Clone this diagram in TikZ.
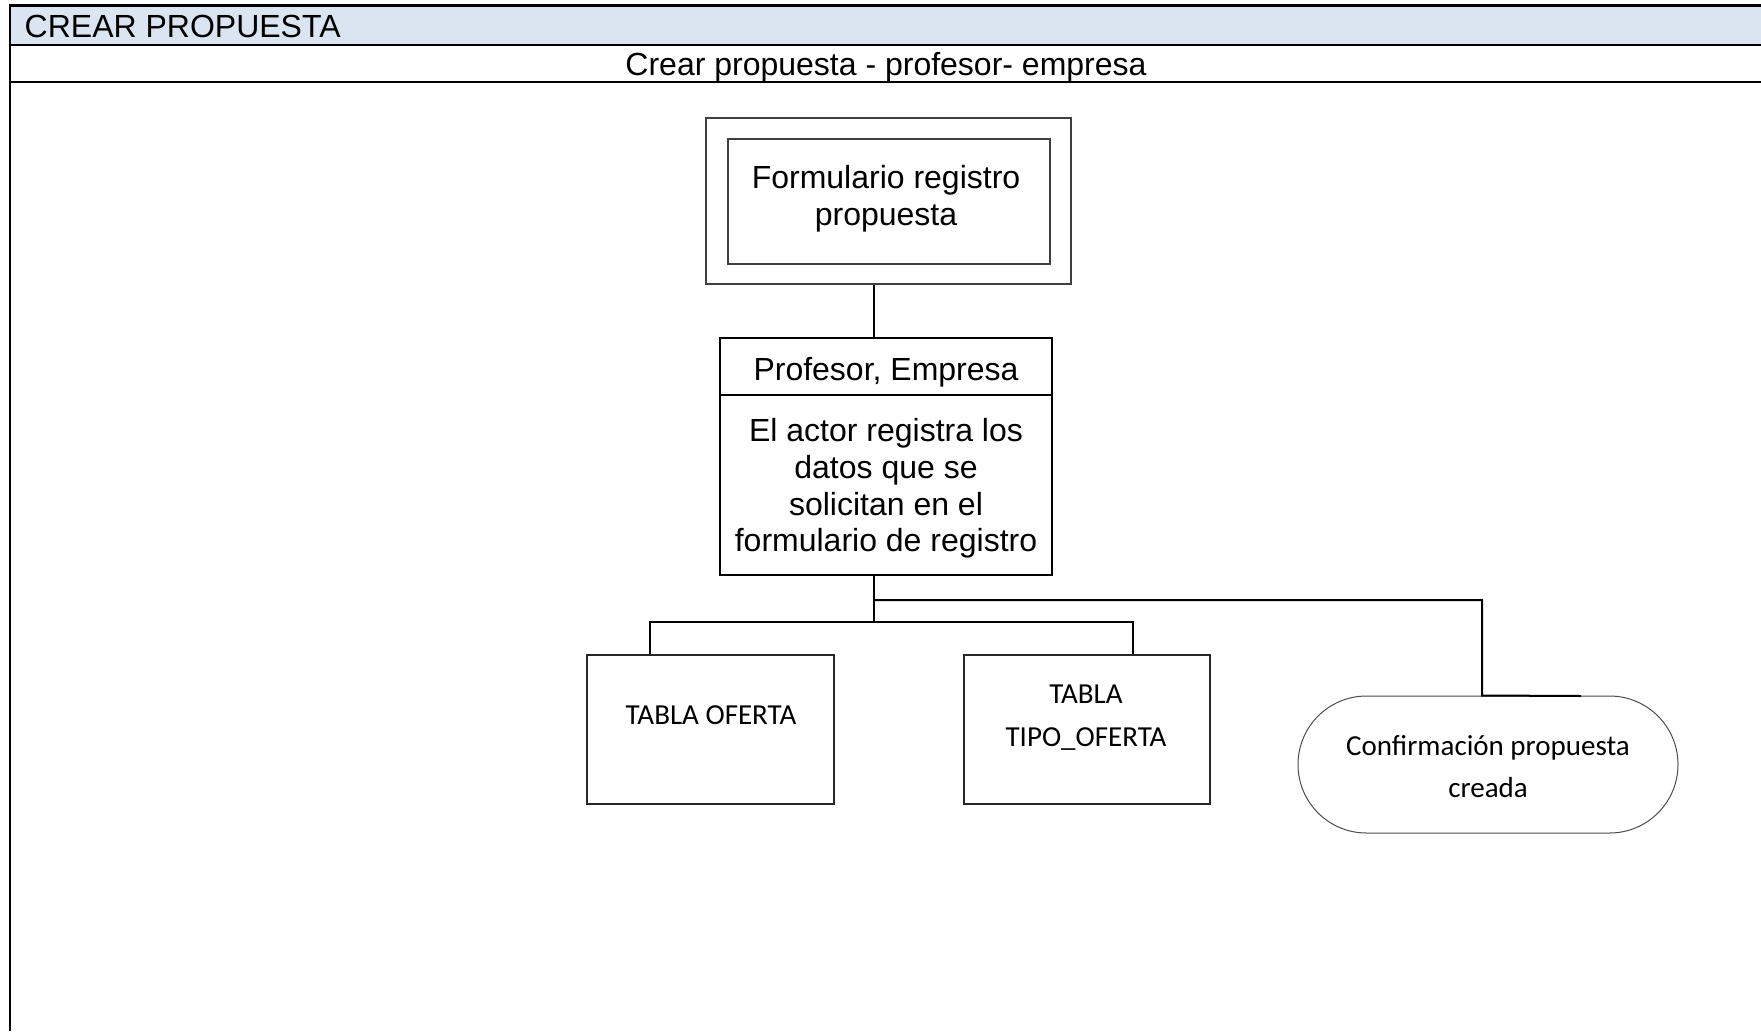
\documentclass[tikz,border=0pt]{standalone}
\usepackage{fontspec}
\setmainfont{Liberation Sans}
\newfontfamily\calfont{Carlito}
\definecolor{hdrblue}{RGB}{219,229,241}
\begin{document}
\begin{tikzpicture}[x=1pt,y=-1pt,
  arialtxt/.style={font=\fontsize{32}{36.8}\selectfont, inner sep=0pt, align=center},
  caltxt/.style={font=\calfont\fontsize{29}{42}\selectfont, inner sep=0pt, align=center},
  thinbox/.style={draw=black!75, line width=1.2pt, inner sep=0pt},
  thickbox/.style={draw=black, line width=2.2pt, inner sep=0pt},
  tablebox/.style={draw=black!85, line width=1.3pt, inner sep=0pt},
  conn/.style={draw=black, line width=2pt},
  grid/.style={draw=black, line width=2.6pt}]
\useasboundingbox (0,0) rectangle (1761,1031);
% table frame
\fill[hdrblue] (10,5.6) rectangle (1761,45);
\draw[grid] (10,5.6) -- (1761,5.6);
\draw[grid] (10,45) -- (1761,45);
\draw[grid] (10,82) -- (1761,82);
\draw[grid] (10,4.3) -- (10,1031);
\node[arialtxt, anchor=base west] (hdr) at (24.5,37.5) {CREAR PROPUESTA};
\node[arialtxt, anchor=base] (sub) at (886,75.5) {Crear propuesta - profesor- empresa};
% formulario
\node[thinbox, minimum width=365pt, minimum height=166pt] (fo) at (888.5,201) {};
\node[thinbox, minimum width=322pt, minimum height=125pt] (fi) at (889,201.5) {};
\node[arialtxt] (ftxt) at (886,198.5) {Formulario registro\\propuesta};
% profesor box
\node[thickbox, minimum width=332pt, minimum height=237pt] (pe) at (886,456.5) {};
\draw[line width=2pt] (pe.west |- 0,395) -- (pe.east |- 0,395);
\node[arialtxt] (ptitle) at (886,372) {Profesor, Empresa};
\node[arialtxt] (pbody) at (886,488.5) {El actor registra los\\datos que se\\solicitan en el\\formulario de registro};
% lower nodes
\node[tablebox, minimum width=247pt, minimum height=149pt] (t1) at (710.5,729.5) {};
\node[caltxt] (t1txt) at (711,715) {TABLA OFERTA};
\node[tablebox, minimum width=246pt, minimum height=149pt] (t2) at (1087,729.5) {};
\node[caltxt, font=\calfont\fontsize{29}{43}\selectfont] (t2txt) at (1086,717.5) {TABLA\\TIPO\_OFERTA};
\node[draw=black!70, line width=1pt, minimum width=380pt, minimum height=137pt, rounded corners=68.5pt, inner sep=0pt] (cf) at (1488,764.5) {};
\node[caltxt] (cftxt) at (1488,766.5) {Confirmación propuesta\\creada};
% connectors
\coordinate (cx) at (874,0);
\coordinate (bar) at (0,622);
\coordinate (br) at (0,600);
\coordinate (d1) at (650,0);
\coordinate (d2) at (1133,0);
\coordinate (d3) at (1482,0);
\coordinate (cfend) at (1581,696);
\draw[conn] (fo.south -| cx) -- (pe.north -| cx);
\draw[conn] (pe.south -| cx) -- (cx |- bar);
\draw[conn] (t1.north -| d1) -- (d1 |- bar) -- (d2 |- bar) -- (t2.north -| d2);
\draw[conn] (cx |- br) -- (d3 |- br) -- (cf.north -| d3) -- (cfend);
\end{tikzpicture}
\end{document}
